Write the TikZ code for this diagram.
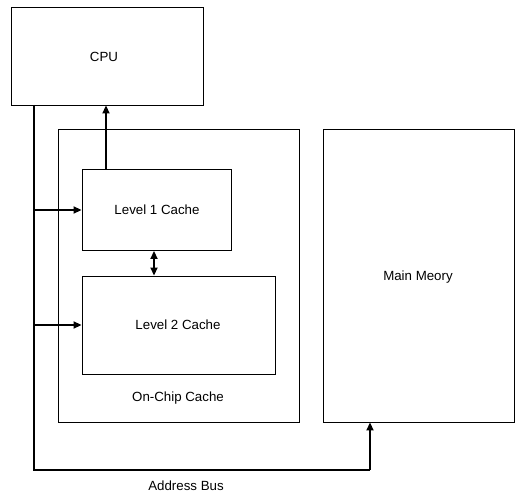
\documentclass[tikz,border=0pt]{standalone}
\usepackage{fontspec}
\setmainfont{Liberation Sans}
\usetikzlibrary{arrows.meta}
\begin{document}
\begin{tikzpicture}[x=1pt,y=-1pt,
  box/.style={draw,line width=0.9pt,inner sep=0pt},
  bus/.style={line width=1.8pt},
  arr/.style={-{Triangle[length=8pt,width=7pt]}},
  lbl/.style={font=\fontsize{13.3}{15}\selectfont}]
\useasboundingbox (0,0) rectangle (516,494);
\node[box,minimum width=192pt,minimum height=98pt] (cpu) at (107,56) {};
\node[lbl] at (104,57) {CPU};
\node[box,minimum width=241pt,minimum height=293pt] (chip) at (178.5,275.5) {};
\node[box,minimum width=149pt,minimum height=81pt] (l1) at (156.5,210) {};
\node[box,minimum width=193pt,minimum height=98pt] (l2) at (178.5,325) {};
\node[box,minimum width=191pt,minimum height=293pt] (mem) at (418.5,275.5) {};
\node[lbl] at (157,210) {Level 1 Cache};
\node[lbl] at (178,325) {Level 2 Cache};
\node[lbl] at (178,398) {On-Chip Cache};
\node[lbl] at (418,277) {Main Meory};
\node[lbl] (ab) at (186,486) {Address Bus};
\coordinate (b0) at (34,105);
\coordinate (b1) at (34,470);
\coordinate (b2) at (370,470);
\coordinate (t1) at (34,210);
\coordinate (t2) at (34,325);
\coordinate (u) at (106,0);
\coordinate (d) at (154,0);
\draw[bus] (b0) -- (b1) -- (b2);
\draw[bus,arr] (b2) -- (mem.south -| b2);
\draw[bus,arr] (l1.north -| u) -- (cpu.south -| u);
\draw[bus,arr] (t1) -- (l1.west);
\draw[bus,arr] (t2) -- (l2.west);
\draw[bus,{Triangle[length=8pt,width=7pt]}-{Triangle[length=8pt,width=7pt]}] (l1.south -| d) -- (l2.north -| d);
\end{tikzpicture}
\end{document}
